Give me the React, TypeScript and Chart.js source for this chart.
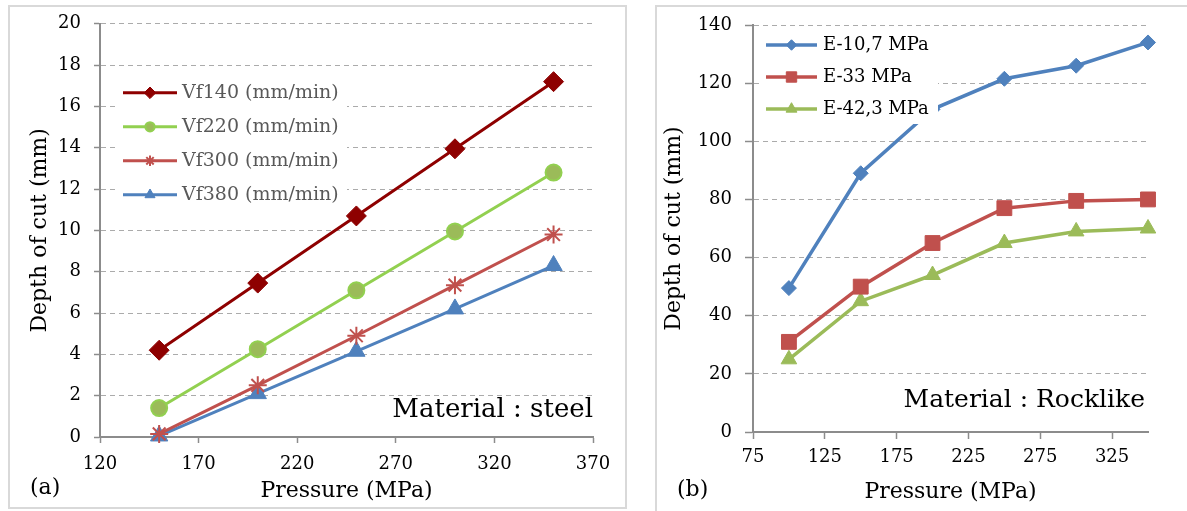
import React, { useEffect, useRef } from 'react';
import { Chart, registerables } from 'chart.js';

Chart.register(...registerables);

const SERIF = '"DejaVu Serif", "Liberation Serif", serif';
const AXIS = '#8C8C8C';
const GRID = '#ABABAB';

// (a) Steel: depth of cut against pressure for four feed rates
const steelPressure = [150, 200, 250, 300, 350];
const vf140 = [4.2, 7.45, 10.7, 13.95, 17.2];
const vf220 = [1.4, 4.25, 7.1, 9.95, 12.8];
const vf300 = [0.15, 2.5, 4.9, 7.35, 9.8];
const vf380 = [0.05, 2.1, 4.15, 6.2, 8.3];
const steelXTicks = [120, 170, 220, 270, 320, 370];
const steelYTicks = [0, 2, 4, 6, 8, 10, 12, 14, 16, 18, 20];

// (b) Rocklike material: depth of cut against pressure for three moduli
const rockPressure = [100, 150, 200, 250, 300, 350];
const e107 = [49.5, 89, 111, 121.5, 126, 134];
const e33 = [31, 50, 65, 77, 79.5, 80];
const e423 = [25, 45, 54, 65, 69, 70];
const rockXTicks = [75, 125, 175, 225, 275, 325];
const rockYTicks = [0, 20, 40, 60, 80, 100, 120, 140];

const pts = (xs: number[], ys: number[]) => xs.map((x, i) => ({ x, y: ys[i] }));

function drawMarker(
  ctx: CanvasRenderingContext2D,
  style: string,
  x: number,
  y: number,
  r: number,
  fill: string,
  stroke: string,
  bw: number
) {
  ctx.save();
  ctx.beginPath();
  ctx.setLineDash([]);
  if (style === 'rectRot') {
    ctx.moveTo(x, y - r);
    ctx.lineTo(x + r, y);
    ctx.lineTo(x, y + r);
    ctx.lineTo(x - r, y);
    ctx.closePath();
  } else if (style === 'rect') {
    const s = r * Math.SQRT1_2;
    ctx.rect(x - s, y - s, 2 * s, 2 * s);
  } else if (style === 'triangle') {
    for (let k = 0; k < 3; k++) {
      const a = (k * 2 * Math.PI) / 3;
      const px = x + Math.sin(a) * r;
      const py = y - Math.cos(a) * r;
      if (k === 0) ctx.moveTo(px, py);
      else ctx.lineTo(px, py);
    }
    ctx.closePath();
  } else if (style === 'circle') {
    ctx.arc(x, y, r, 0, Math.PI * 2);
  } else if (style === 'star') {
    for (let k = 0; k < 4; k++) {
      const a = (k * Math.PI) / 4;
      ctx.moveTo(x - Math.sin(a) * r, y - Math.cos(a) * r);
      ctx.lineTo(x + Math.sin(a) * r, y + Math.cos(a) * r);
    }
  }
  if (style !== 'star') {
    ctx.fillStyle = fill;
    ctx.fill();
  }
  if (bw > 0) {
    ctx.strokeStyle = stroke;
    ctx.lineWidth = bw;
    ctx.stroke();
  }
  ctx.restore();
}

// Legend drawn inside the plot on a white box, on top of the lines
const insetLegend = {
  id: 'insetLegend',
  afterDatasetsDraw(chart: any, _args: any, o: any) {
    const { ctx, chartArea } = chart;
    const x0 = chartArea.left + o.dx;
    const y0 = chartArea.top + o.dy;
    ctx.save();
    ctx.fillStyle = '#ffffff';
    ctx.fillRect(x0, y0, o.w, o.h);
    chart.data.datasets.forEach((ds: any, i: number) => {
      const cy = y0 + o.row0 + i * o.rowGap;
      ctx.beginPath();
      ctx.setLineDash([]);
      ctx.strokeStyle = ds.borderColor;
      ctx.lineWidth = ds.borderWidth;
      ctx.moveTo(x0 + o.lineX0, cy);
      ctx.lineTo(x0 + o.lineX1, cy);
      ctx.stroke();
      drawMarker(
        ctx,
        ds.pointStyle,
        x0 + (o.lineX0 + o.lineX1) / 2,
        cy,
        ds.pointRadius * o.markerScale,
        ds.pointBackgroundColor,
        ds.pointBorderColor,
        ds.pointBorderWidth
      );
      ctx.fillStyle = o.color;
      ctx.font = `${o.size}px ${SERIF}`;
      ctx.textAlign = 'left';
      ctx.textBaseline = 'middle';
      ctx.fillText(ds.label, x0 + o.textX, cy);
    });
    ctx.restore();
  },
};

// Material note inside the plot and the panel tag in the corner
const panelText = {
  id: 'panelText',
  afterDraw(chart: any, _args: any, o: any) {
    const { ctx, chartArea } = chart;
    ctx.save();
    ctx.fillStyle = '#000000';
    ctx.font = `${o.noteSize}px ${SERIF}`;
    ctx.textAlign = 'right';
    ctx.textBaseline = 'alphabetic';
    ctx.fillText(o.note, chartArea.right + o.noteDx, chartArea.bottom - o.noteRise);
    ctx.font = `22px ${SERIF}`;
    ctx.textAlign = 'left';
    ctx.textBaseline = 'middle';
    ctx.fillText(o.tag, o.tagX, o.tagY);
    ctx.restore();
  },
};

function scales(o: any) {
  return {
    x: {
      type: 'linear',
      min: o.xMin,
      max: o.xMax,
      afterBuildTicks: (s: any) => {
        s.ticks = o.xTicks.map((v: number) => ({ value: v }));
      },
      afterFit: (s: any) => {
        s.height = o.xHeight;
      },
      grid: {
        drawOnChartArea: false,
        drawTicks: true,
        tickLength: o.xTickLen,
        tickColor: AXIS,
        tickWidth: 1.5,
      },
      border: { color: AXIS, width: 2 },
      ticks: {
        color: '#000',
        font: { family: SERIF, size: 18 },
        padding: o.xPad,
        maxRotation: 0,
        autoSkip: false,
      },
      title: {
        display: true,
        text: 'Pressure (MPa)',
        color: '#000',
        font: { family: SERIF, size: 22 },
        padding: { top: 0, bottom: o.xTitlePad },
      },
    },
    y: {
      type: 'linear',
      min: o.yMin,
      max: o.yMax,
      afterBuildTicks: (s: any) => {
        s.ticks = o.yTicks.map((v: number) => ({ value: v }));
      },
      afterFit: (s: any) => {
        s.width = o.yWidth;
      },
      grid: {
        color: GRID,
        lineWidth: 1,
        borderDash: [5, 4],
        drawTicks: true,
        tickLength: o.yTickLen,
        tickColor: AXIS,
        tickWidth: 1.5,
        tickBorderDash: [],
      },
      border: { color: AXIS, width: 2, dash: [5, 4] },
      ticks: {
        color: '#000',
        font: { family: SERIF, size: 18 },
        padding: o.yPad,
        autoSkip: false,
      },
      title: {
        display: true,
        text: 'Depth of cut (mm)',
        color: '#000',
        font: { family: SERIF, size: 22 },
        padding: { top: o.yTitlePad, bottom: 0 },
      },
    },
  };
}

function steelConfig(): any {
  return {
    type: 'line',
    data: {
      datasets: [
        {
          label: 'Vf140 (mm/min)',
          data: pts(steelPressure, vf140),
          borderColor: '#8E0000',
          borderWidth: 3,
          pointStyle: 'rectRot',
          pointRadius: 10,
          pointBackgroundColor: '#8E0000',
          pointBorderColor: '#8E0000',
          pointBorderWidth: 1,
        },
        {
          label: 'Vf220 (mm/min)',
          data: pts(steelPressure, vf220),
          borderColor: '#92D050',
          borderWidth: 3,
          pointStyle: 'circle',
          pointRadius: 8,
          pointBackgroundColor: '#9BBB59',
          pointBorderColor: '#92D050',
          pointBorderWidth: 2,
        },
        {
          label: 'Vf300 (mm/min)',
          data: pts(steelPressure, vf300),
          borderColor: '#C0504D',
          borderWidth: 3,
          pointStyle: 'star',
          pointRadius: 9,
          pointBackgroundColor: '#C0504D',
          pointBorderColor: '#C0504D',
          pointBorderWidth: 2,
        },
        {
          label: 'Vf380 (mm/min)',
          data: pts(steelPressure, vf380),
          borderColor: '#4F81BD',
          borderWidth: 3,
          pointStyle: 'triangle',
          pointRadius: 10,
          pointBackgroundColor: '#4F81BD',
          pointBorderColor: '#4F81BD',
          pointBorderWidth: 1,
        },
      ].map((d) => ({ ...d, clip: false, tension: 0, fill: false })),
    },
    options: {
      animation: false,
      responsive: false,
      devicePixelRatio: 1,
      layout: { padding: { left: 0, right: 37, top: 21, bottom: 0 } },
      scales: scales({
        xMin: 120,
        xMax: 370,
        xTicks: steelXTicks,
        yMin: 0,
        yMax: 20,
        yTicks: steelYTicks,
        xHeight: 74,
        yWidth: 100,
        xTickLen: 6,
        yTickLen: 6,
        xPad: 11,
        yPad: 13,
        xTitlePad: 7,
        yTitlePad: 27,
      }),
      plugins: {
        legend: { display: false },
        tooltip: { enabled: false },
        insetLegend: {
          dx: 15,
          dy: 49,
          w: 232,
          h: 138,
          row0: 20,
          rowGap: 34,
          lineX0: 8,
          lineX1: 62,
          textX: 67,
          markerScale: 0.58,
          color: '#595959',
          size: 19,
        },
        panelText: {
          note: 'Material : steel',
          noteSize: 26,
          noteDx: 0,
          noteRise: 20,
          tag: '(a)',
          tagX: 30,
          tagY: 488,
        },
      },
    },
    plugins: [insetLegend, panelText],
  };
}

function rockConfig(): any {
  return {
    type: 'line',
    data: {
      datasets: [
        {
          label: 'E-10,7 MPa',
          data: pts(rockPressure, e107),
          borderColor: '#4F81BD',
          borderWidth: 3.5,
          pointStyle: 'rectRot',
          pointRadius: 7.5,
          pointBackgroundColor: '#4F81BD',
          pointBorderColor: '#4F81BD',
          pointBorderWidth: 1,
        },
        {
          label: 'E-33 MPa',
          data: pts(rockPressure, e33),
          borderColor: '#C0504D',
          borderWidth: 3.5,
          pointStyle: 'rect',
          pointRadius: 10.5,
          pointBackgroundColor: '#C0504D',
          pointBorderColor: '#C0504D',
          pointBorderWidth: 1,
        },
        {
          label: 'E-42,3 MPa',
          data: pts(rockPressure, e423),
          borderColor: '#9BBB59',
          borderWidth: 3.5,
          pointStyle: 'triangle',
          pointRadius: 9,
          pointBackgroundColor: '#9BBB59',
          pointBorderColor: '#9BBB59',
          pointBorderWidth: 1,
        },
      ].map((d) => ({ ...d, clip: false, tension: 0, fill: false })),
    },
    options: {
      animation: false,
      responsive: false,
      devicePixelRatio: 1,
      layout: { padding: { left: 0, right: 39, top: 25, bottom: 0 } },
      scales: scales({
        xMin: 75,
        xMax: 350,
        xTicks: rockXTicks,
        yMin: 0,
        yMax: 140,
        yTicks: rockYTicks,
        xHeight: 79,
        yWidth: 113,
        xTickLen: 7,
        yTickLen: 8,
        xPad: 8,
        yPad: 13,
        xTitlePad: 6,
        yTitlePad: 21,
      }),
      plugins: {
        legend: { display: false },
        tooltip: { enabled: false },
        insetLegend: {
          dx: 9,
          dy: 3,
          w: 176,
          h: 96,
          row0: 17,
          rowGap: 32,
          lineX0: 4,
          lineX1: 55,
          textX: 61,
          markerScale: 0.7,
          color: '#000000',
          size: 18,
        },
        panelText: {
          note: 'Material : Rocklike',
          noteSize: 25,
          noteDx: -3,
          noteRise: 25,
          tag: '(b)',
          tagX: 37,
          tagY: 490,
        },
      },
    },
    plugins: [insetLegend, panelText],
  };
}

export default function App() {
  const steelRef = useRef<HTMLCanvasElement | null>(null);
  const rockRef = useRef<HTMLCanvasElement | null>(null);

  useEffect(() => {
    const charts: Chart[] = [];
    if (steelRef.current) charts.push(new Chart(steelRef.current, steelConfig()));
    if (rockRef.current) charts.push(new Chart(rockRef.current, rockConfig()));
    return () => charts.forEach((c) => c.destroy());
  }, []);

  return (
    <div
      style={{
        position: 'fixed',
        left: 0,
        top: 0,
        width: 1187,
        height: 511,
        overflow: 'hidden',
        background: '#ffffff',
      }}
    >
      <div
        style={{
          position: 'absolute',
          left: 8,
          top: 5,
          width: 619,
          height: 504,
          border: '2px solid #D9D9D9',
          boxSizing: 'border-box',
        }}
      />
      <div
        style={{
          position: 'absolute',
          left: 655,
          top: 5,
          width: 700,
          height: 700,
          border: '2px solid #D9D9D9',
          boxSizing: 'border-box',
        }}
      />
      <canvas
        ref={steelRef}
        width={630}
        height={511}
        style={{ position: 'absolute', left: 0, top: 0, width: 630, height: 511 }}
      />
      <canvas
        ref={rockRef}
        width={547}
        height={511}
        style={{ position: 'absolute', left: 640, top: 0, width: 547, height: 511 }}
      />
    </div>
  );
}
